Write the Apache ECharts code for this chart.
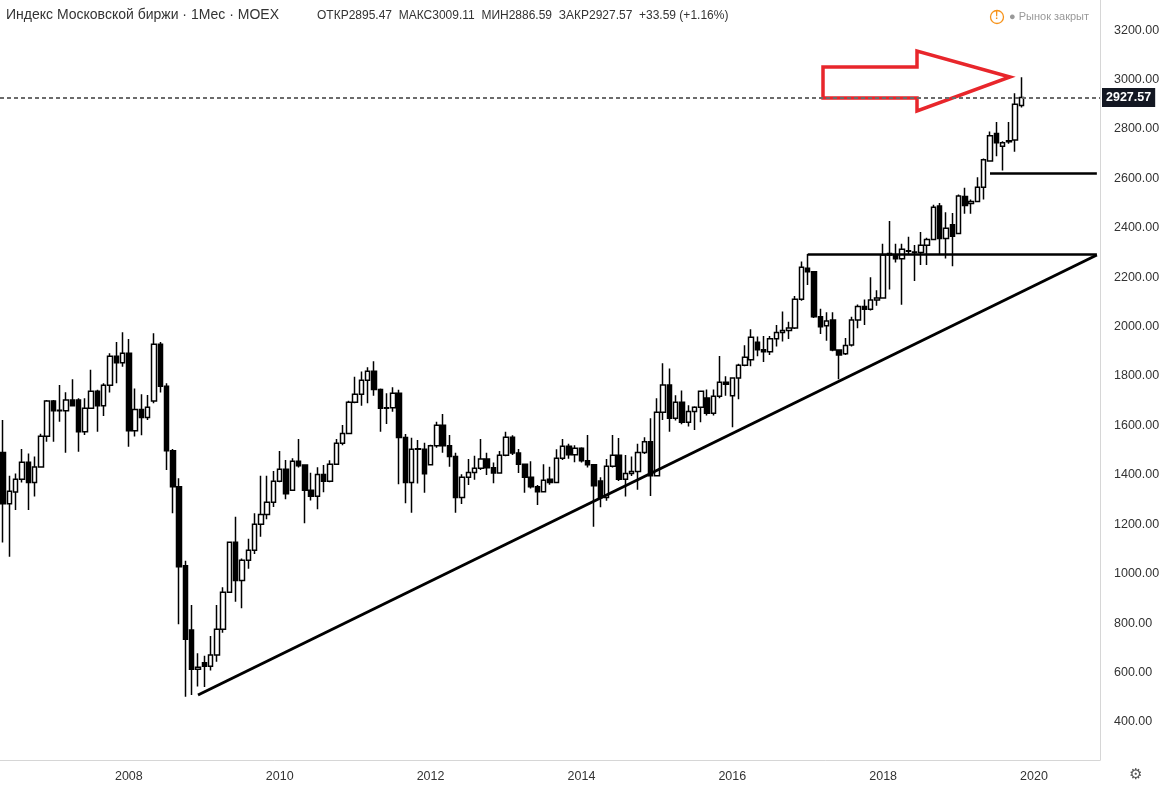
<!DOCTYPE html>
<html><head><meta charset="utf-8">
<script src="https://cdn.jsdelivr.net/npm/echarts@6/dist/echarts.min.js"></script>
<style>html,body{margin:0;padding:0;background:#fff}#c{width:1168px;height:798px}</style>
</head><body><div id="c"></div>
<script>
const startYear = 2006, startMonth = 5, totalSlots = 175;
const opens  = [1491,1283,1331,1382,1451,1369,1432,1556,1699,1660,1660,1703,1703,1575,1670,1738,1680,1763,1880,1854,1892,1579,1665,1632,1699,1929,1759,1498,1352,1032,772,613,640,625,671,775,925,1127,973,1054,1095,1200,1240,1289,1374,1423,1338,1455,1440,1338,1313,1402,1374,1443,1528,1567,1694,1726,1783,1819,1746,1670,1672,1730,1551,1369,1504,1504,1441,1518,1601,1518,1474,1308,1390,1410,1427,1464,1429,1408,1479,1552,1489,1443,1390,1352,1332,1382,1369,1467,1516,1481,1508,1457,1441,1375,1308,1435,1479,1382,1406,1414,1491,1534,1396,1653,1764,1629,1694,1613,1657,1674,1711,1649,1718,1775,1720,1792,1844,1866,1937,1906,1898,1951,1976,1984,1994,2111,2236,2222,2040,2004,2027,1905,1890,1926,2027,2081,2070,2108,2116,2290,2290,2275,2307,2300,2300,2329,2353,2488,2357,2412,2377,2527,2498,2506,2564,2670,2782,2730,2748,2755,2895.47];
const closes = [1283,1334,1382,1451,1369,1432,1556,1699,1660,1662,1703,1680,1575,1670,1738,1680,1763,1880,1854,1892,1579,1665,1632,1674,1929,1759,1498,1352,1028,735,613,621,625,671,775,925,1127,973,1054,1095,1200,1240,1289,1374,1423,1324,1455,1437,1338,1313,1402,1374,1443,1528,1567,1694,1726,1783,1819,1746,1670,1672,1730,1551,1369,1504,1506,1405,1518,1601,1518,1474,1308,1390,1410,1427,1464,1429,1408,1479,1552,1489,1443,1390,1352,1332,1378,1369,1467,1516,1481,1508,1457,1441,1356,1308,1435,1479,1382,1406,1414,1491,1534,1396,1653,1764,1629,1694,1613,1657,1674,1738,1649,1718,1775,1767,1792,1844,1876,1957,1906,1898,1951,1976,1984,1994,2111,2240,2222,2040,2000,2023,1905,1885,1924,2027,2081,2070,2108,2116,2290,2296,2275,2313,2305,2302,2329,2353,2483,2357,2398,2366,2529,2490,2506,2564,2675,2773,2744,2744,2752,2900,2927.57];
const lows   = [1126,1069,1258,1369,1258,1312,1432,1534,1534,1615,1490,1680,1494,1561,1670,1575,1638,1733,1771,1838,1514,1555,1560,1622,1690,1733,1420,1245,795,502,509,543,541,608,644,761,925,887,860,1020,1080,1150,1220,1270,1370,1301,1336,1430,1204,1296,1261,1330,1370,1440,1520,1567,1690,1680,1690,1720,1575,1606,1655,1362,1285,1247,1365,1328,1440,1510,1490,1433,1247,1282,1359,1380,1420,1400,1366,1405,1475,1480,1408,1328,1345,1278,1330,1360,1367,1460,1465,1451,1450,1430,1190,1269,1295,1430,1375,1312,1395,1340,1485,1315,1396,1622,1575,1620,1605,1596,1582,1613,1640,1640,1710,1720,1593,1706,1840,1840,1880,1857,1885,1920,1940,1950,1990,2105,2169,2035,1970,1943,1900,1787,1885,1920,1993,2007,2065,2085,2116,2150,2260,2089,2290,2185,2249,2249,2353,2290,2276,2244,2377,2457,2457,2506,2515,2670,2690,2632,2740,2708,2886.59];
const highs  = [1622,1396,1406,1505,1487,1474,1566,1703,1703,1764,1734,1787,1710,1710,1825,1745,1771,1892,1938,1977,1950,1750,1726,1723,1973,1938,1771,1505,1386,1052,873,678,668,748,873,945,1130,1231,1062,1141,1245,1396,1396,1416,1497,1460,1467,1545,1440,1409,1431,1440,1459,1545,1602,1700,1797,1818,1836,1860,1750,1730,1755,1745,1565,1550,1541,1530,1522,1615,1646,1561,1490,1403,1464,1477,1545,1490,1450,1497,1575,1560,1505,1446,1455,1359,1443,1433,1504,1545,1526,1520,1512,1561,1441,1390,1464,1561,1549,1480,1474,1526,1552,1629,1710,1852,1831,1722,1741,1682,1678,1740,1746,1746,1881,1799,1795,1850,1925,1989,1960,1962,1962,2007,2061,2020,2124,2264,2294,2222,2072,2058,2058,1905,1954,2040,2090,2110,2200,2147,2335,2428,2335,2335,2364,2330,2383,2360,2493,2500,2463,2460,2535,2562,2515,2605,2680,2790,2828,2750,2828,2945,3009.11];
const yTicks = [400,600,800,1000,1200,1400,1600,1800,2000,2200,2400,2600,2800,3000,3200];
const yearLabels = ['2008','2010','2012','2014','2016','2018','2020'];
const trendStart = {idx:31, value:509}, trendEnd = {idx:174, value:2290};
const level1 = {idx:128, value:2294}, level2 = {idx:157, value:2622};
const lastClose = 2927.57;

const cats = [];
for (let i=0;i<totalSlots;i++){
  const m = startMonth-1+i; const y = startYear+Math.floor(m/12); const mm = m%12+1;
  cats.push(y+'-'+String(mm).padStart(2,'0'));
}
const candles = opens.map((o,i)=>[o,closes[i],lows[i],highs[i]]);
const chart = echarts.init(document.getElementById('c'));
const lineStyle = {color:'#000', width:3, type:'solid'};
chart.setOption({
  animation:false,
  grid:{left:0,right:68,top:0,bottom:38},
  xAxis:{type:'category',data:cats,boundaryGap:true,
    axisLine:{show:true,lineStyle:{color:'#d6d6d6'}},axisTick:{show:false},
    axisLabel:{color:'#333',fontSize:12.5,fontFamily:'Liberation Sans, Arial',margin:10,
      interval:(i,v)=>yearLabels.includes(v.slice(0,4)) && v.slice(5)==='01',
      formatter:v=>v.slice(0,4)},
    splitLine:{show:false}},
  yAxis:{type:'value',position:'right',min:246,max:3322,scale:true,
    axisLine:{show:true,lineStyle:{color:'#d6d6d6'}},axisTick:{show:false},splitLine:{show:false},
    axisLabel:{customValues:yTicks,color:'#333',fontSize:12.5,fontFamily:'Liberation Sans, Arial',margin:14,
      formatter:v=>v.toFixed(2)}},
  series:[{type:'candlestick',data:candles,barWidth:5,
    itemStyle:{color:'#fff',color0:'#000',borderColor:'#000',borderColor0:'#000',borderWidth:1.5},
    markLine:{symbol:'none',silent:true,
      data:[
        [{coord:[cats[trendStart.idx],trendStart.value],lineStyle},{coord:[cats[trendEnd.idx],trendEnd.value]}],
        [{coord:[cats[level1.idx],level1.value],lineStyle:{color:'#000',width:2.5,type:'solid'}},{coord:[cats[totalSlots-1],level1.value]}],
        [{coord:[cats[level2.idx],level2.value],lineStyle:{color:'#000',width:2.5,type:'solid'}},{coord:[cats[totalSlots-1],level2.value]}],
        {yAxis:lastClose,lineStyle:{color:'#6b6b6b',width:2,type:[4,3]},
          label:{show:true,position:'end',formatter:lastClose.toFixed(2),color:'#fff',backgroundColor:'#131722',
            fontWeight:'bold',fontSize:12.5,padding:[3,4],distance:2}}
      ],
      label:{show:false}}
  }],
  graphic:[
    {type:'polygon',shape:{points:[[823,67],[917,67],[917,51],[1010,77],[917,111],[917,98],[823,98]]},
      style:{fill:'none',stroke:'#e8262b',lineWidth:3.5}},
    {type:'text',left:6,top:8,style:{text:'Индекс Московской биржи · 1Мес · MOEX',fill:'#333',fontSize:14,fontFamily:'Liberation Sans Narrow, Liberation Sans, Arial'}},
    {type:'text',left:317,top:10,style:{text:'ОТКР2895.47  МАКС3009.11  МИН2886.59  ЗАКР2927.57  +33.59 (+1.16%)',fill:'#333',fontSize:12,fontFamily:'Liberation Sans Narrow, Liberation Sans, Arial'}},
    {type:'circle',shape:{cx:997,cy:17,r:6.5},style:{fill:'#fff',stroke:'#f7931a',lineWidth:1.3}},
    {type:'text',left:995,top:11,style:{text:'!',fill:'#f7931a',fontSize:10,fontWeight:'bold'}},
    {type:'text',left:1009,top:11,style:{text:'● Рынок закрыт',fill:'#999',fontSize:11,fontFamily:'Liberation Sans, Arial'}},
    {type:'text',left:1129,top:767,style:{text:'⚙',fill:'#555',fontSize:15}}
  ]
});
</script></body></html>
